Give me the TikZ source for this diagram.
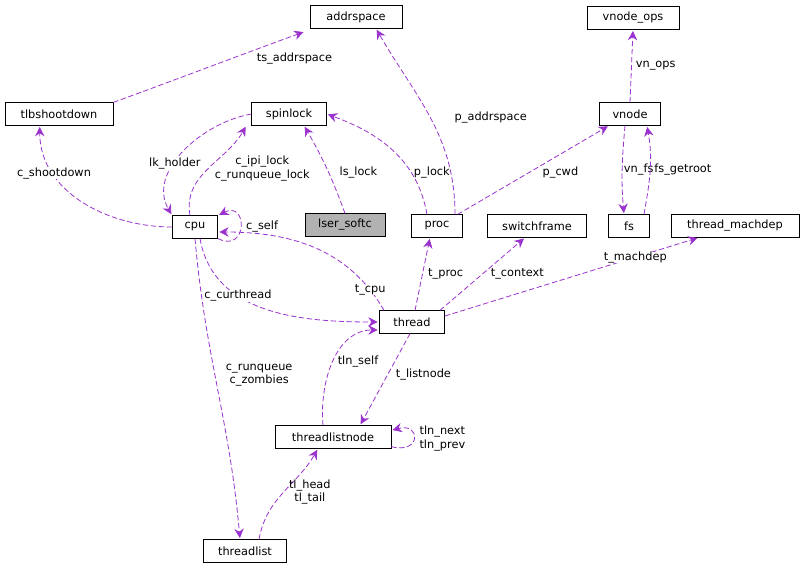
\documentclass[tikz,border=0pt]{standalone}
\usepackage{fontspec}
\setmainfont{DejaVu Sans}
\usetikzlibrary{arrows.meta, calc}
\definecolor{edgecol}{HTML}{9A32CD}
\begin{document}
\begin{tikzpicture}[x=0.75pt, y=-0.75pt,
    every node/.style={font=\fontsize{8.5}{10}\selectfont},
    box/.style={draw, fill=white, minimum height=17pt, inner sep=2pt},
    lbl/.style={align=center, inner sep=0pt},
    rel/.style={draw=edgecol, dash pattern=on 4pt off 2pt, semithick, -{Stealth[length=7pt,width=7pt]}, shorten >=1pt}]
\useasboundingbox (0,0) rectangle (808,573);
% classes
\node[box, minimum width=69pt] (addrspace)  at (356,17)  {addrspace};
\node[box, minimum width=69pt] (vnodeops)   at (633,18)  {vnode\_ops};
\node[box, minimum width=81pt] (tlb)        at (59,114)  {tlbshootdown};
\node[box, minimum width=56pt] (spinlock)   at (289,114) {spinlock};
\node[box, minimum width=46pt] (vnode)      at (630,114) {vnode};
\node[box, minimum width=34pt] (cpu)        at (195,227) {cpu};
\node[box, minimum width=60pt, fill=black!30] (lser) at (345,225) {lser\_softc};
\node[box, minimum width=38pt] (proc)       at (437,226) {proc};
\node[box, minimum width=74pt] (switchf)    at (537,226) {switchframe};
\node[box, minimum width=31pt] (fs)         at (629,226) {fs};
\node[box, minimum width=96pt] (machdep)    at (735,226) {thread\_machdep};
\node[box, minimum width=49pt] (thread)     at (412,322) {thread};
\node[box, minimum width=87pt] (tln)        at (333,437) {threadlistnode};
\node[box, minimum width=62pt] (tlist)      at (245,551) {threadlist};

% relations
\draw[rel] (tlb.north east) to[out=20,in=200] node[lbl, pos=0.75, below right=2pt] {ts\_addrspace} ($(addrspace.south west)+(-5,3)$);
\draw[rel] ($(proc.north)+(18,0)$) to[out=90,in=300] node[lbl, pos=0.5, right=18pt] {p\_addrspace} ($(addrspace.south)+(20,0)$);
\draw[rel] (vnode.north) -- node[lbl, fill=white, pos=0.5, right=3pt] {vn\_ops} (vnodeops.south);
\draw[rel] (cpu.west) to[out=180,in=270] node[lbl, pos=0.72, fill=white] {c\_shootdown} ($(tlb.south west)+(35,0)$);
\draw[rel] (spinlock.west) to[out=190,in=120] node[lbl, pos=0.6, fill=white] {lk\_holder} (cpu.north west);
\draw[rel] ($(cpu.north)+(-5,0)$) to[out=100,in=240] node[lbl, pos=0.5, right=5pt] {c\_ipi\_lock\\c\_runqueue\_lock} ($(spinlock.south west)+(-5,0)$);
\draw[rel] (lser.north) to[out=110,in=300] node[lbl, pos=0.45, right=8pt] {ls\_lock} ($(spinlock.south)+(15,0)$);
\draw[rel] ($(proc.north)+(-10,0)$) to[out=100,in=340] node[lbl, pos=0.3, right=2pt] {p\_lock} (spinlock.east);
\draw[rel] ($(proc.north east)+(-5,0)$) -- node[lbl, pos=0.55, below right=1pt] {p\_cwd} ($(vnode.south west)+(10,0)$);
\draw[rel] ($(vnode.south)+(-5,0)$) to[out=265,in=95] node[lbl, pos=0.5, right=1pt] {vn\_fs} ($(fs.north)+(-5,0)$);
\draw[rel] ($(fs.north)+(15,0)$) to[out=80,in=280] node[lbl, pos=0.5, right=3pt] {fs\_getroot} ($(vnode.south)+(17,0)$);
\draw[rel] (cpu.south east) .. controls +(30,15) and +(30,-15) .. node[lbl, pos=0.5, right=4pt] {c\_self} (cpu.north east);
\draw[rel] ($(thread.north west)+(5,0)$) to[out=120,in=0] node[lbl, pos=0.12, fill=white] {t\_cpu} ($(cpu.east)+(0,5)$);
\draw[rel] ($(cpu.south)+(5,0)$) to[out=280,in=180] node[lbl, pos=0.35, fill=white] {c\_curthread} (thread.west);
\draw[rel] ($(thread.north)+(3,0)$) -- node[lbl, pos=0.5, right=4pt] {t\_proc} ($(proc.south)+(-7,0)$);
\draw[rel] ($(thread.north east)+(-5,0)$) -- node[lbl, pos=0.5, right=6pt] {t\_context} ($(switchf.south)+(-12,0)$);
\draw[rel] ($(thread.east)+(0,-6)$) -- node[lbl, pos=0.75, fill=white] {t\_machdep} ($(machdep.south west)+(28,0)$);
\draw[rel] ($(tln.north)+(-10,0)$) to[out=95,in=180] node[lbl, pos=0.5, right=3pt] {tln\_self} ($(thread.west)+(0,8)$);
\draw[rel] ($(thread.south)+(-2,0)$) -- node[lbl, pos=0.45, right=6pt] {t\_listnode} ($(tln.north)+(27,0)$);
\draw[rel] ($(tln.south east)+(0,-2)$) .. controls +(30,8) and +(30,-8) .. node[lbl, pos=0.5, right=4pt] {tln\_next\\tln\_prev} ($(tln.north east)+(0,5)$);
\draw[rel] ($(cpu.south)+(0,0)$) to[out=275,in=95] node[lbl, pos=0.45, right=8pt] {c\_runqueue\\c\_zombies} ($(tlist.north)+(-5,0)$);
\draw[rel] ($(tlist.north)+(14,0)$) to[out=80,in=240] node[lbl, pos=0.5, right=4pt] {tl\_head\\tl\_tail} ($(tln.south)+(-15,0)$);
\end{tikzpicture}
\end{document}
